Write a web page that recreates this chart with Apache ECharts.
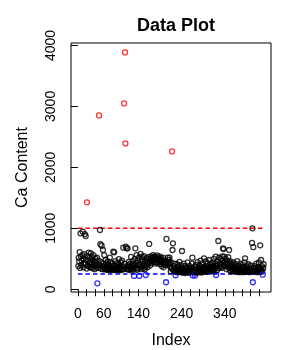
<!DOCTYPE html>
<html><head><meta charset="utf-8">
<script src="https://cdn.jsdelivr.net/npm/echarts@6/dist/echarts.min.js"></script>
<style>html,body{margin:0;padding:0;background:#fff}#c{width:300px;height:350px}</style>
</head><body><div id="c"></div>
<script>
// Ca content by index (1..430)
const caValues = [
380,520,455,610,350,918,540,395,470,560,
944,505,360,430,575,906,415,874,480,340,
1426,545,390,465,600,372,510,440,355,590,
420,365,530,480,345,560,400,455,330,505,
385,440,360,520,98,410,350,470,2852,395,
972,738,340,445,715,380,330,644,420,360,
560,325,395,480,335,425,320,370,455,330,
405,315,350,520,330,440,325,380,320,415,
345,616,320,606,390,315,460,340,325,430,
365,320,410,330,495,355,310,385,320,440,
340,470,325,375,682,330,3049,420,3885,2393,
698,360,672,330,672,395,330,450,315,370,
420,340,530,325,390,350,460,320,410,218,
380,500,672,345,430,560,320,470,395,340,
520,218,410,360,580,445,330,535,490,375,
420,350,545,400,330,470,234,385,510,440,
360,495,420,530,743,455,390,500,470,540,
430,515,480,560,450,505,465,535,420,490,
510,445,555,475,430,520,495,460,540,415,
485,450,505,380,470,430,520,360,445,400,
430,470,400,115,825,450,395,520,440,410,
480,520,420,370,295,440,335,2262,644,754,
310,380,290,420,335,230,300,360,280,410,
320,290,370,305,450,285,340,300,395,275,
628,310,350,285,420,300,265,380,320,290,
360,275,310,440,295,340,270,385,300,325,
280,355,300,420,518,225,290,340,275,365,
225,310,400,285,330,270,445,300,350,280,
390,305,330,470,290,360,275,420,315,345,
300,508,370,285,340,455,310,380,290,420,
330,360,295,480,345,305,410,370,290,350,
440,320,385,300,500,355,330,420,535,234,
375,310,460,400,792,345,520,380,430,360,
495,410,350,540,470,672,660,390,535,445,
380,500,420,330,470,400,360,525,385,644,
430,310,455,350,290,410,330,380,300,440,
340,295,370,320,410,285,350,300,460,330,
290,380,310,345,280,420,300,365,290,335,
400,310,280,355,300,440,508,320,290,375,
305,345,285,410,300,330,280,360,295,390,
320,290,760,1000,115,690,340,300,380,285,
350,310,420,295,330,280,365,305,440,290,
340,721,300,480,320,380,290,240,350,410
];
const upperLimit = 1000;
const lowerLimit = 250;
const limitSpan = [0, 432];
const yTicks = [0, 1000, 2000, 3000, 4000];
const xTicks = [0,20,40,60,80,100,120,140,160,180,200,220,240,260,280,300,320,340,360,380,400,420];
const xLabels = [0, 60, 140, 240, 340];

const FONT = 'Liberation Sans';
const points = caValues.map((v, i) => ({
  value: [i + 1, v],
  itemStyle: { borderColor: v > upperLimit ? '#ff0000' : (v < lowerLimit ? '#0000ff' : '#000000') }
}));

const chart = echarts.init(document.getElementById('c'), null, { renderer: 'canvas' });
chart.setOption({
  animation: false,
  backgroundColor: '#ffffff',
  title: {
    text: 'Data Plot', left: 171, top: 12, textAlign: 'center',
    textStyle: { fontFamily: FONT, fontSize: 18, fontWeight: 'bold', color: '#000' }
  },
  graphic: [{
    type: 'text', x: 171, y: 333,
    style: { text: 'Index', font: '16px "Liberation Sans"', fill: '#000', align: 'center', verticalAlign: 'top' }
  }],
  grid: { left: 71, right: 29, top: 43, bottom: 58, show: true, borderColor: '#000', borderWidth: 1,
    backgroundColor: 'transparent' },
  xAxis: {
    type: 'value', min: -16, max: 447,
    splitLine: { show: false },
    axisLine: { show: false },
    axisTick: { show: true, length: 7, lineStyle: { color: '#000' }, customValues: xTicks },
    axisLabel: { fontFamily: FONT, fontSize: 14, color: '#000', margin: 15,
      customValues: xLabels, formatter: v => String(v) }
  },
  yAxis: {
    type: 'value', min: -45, max: 4040,
    name: 'Ca Content', nameLocation: 'middle', nameGap: 40, nameRotate: 90,
    nameTextStyle: { fontFamily: FONT, fontSize: 16, color: '#000' },
    splitLine: { show: false },
    axisLine: { show: false },
    axisTick: { show: true, length: 7, lineStyle: { color: '#000' }, customValues: yTicks },
    axisLabel: { fontFamily: FONT, fontSize: 14, color: '#000', rotate: 90, margin: 13,
      customValues: yTicks, formatter: v => String(v) }
  },
  series: [
    {
      type: 'line', data: [[limitSpan[0], upperLimit], [limitSpan[1], upperLimit]],
      symbol: 'none', lineStyle: { color: '#ff0000', width: 1.5, type: [4.5, 3] }, silent: true, z: 1
    },
    {
      type: 'line', data: [[limitSpan[0], lowerLimit], [limitSpan[1] - 2, lowerLimit]],
      symbol: 'none', lineStyle: { color: '#0000ff', width: 1.5, type: [4.5, 3] }, silent: true, z: 1
    },
    {
      type: 'scatter', data: points, symbol: 'circle', symbolSize: 5,
      itemStyle: { color: 'rgba(0,0,0,0)', borderWidth: 1.3 }, z: 2
    }
  ]
});
</script></body></html>
